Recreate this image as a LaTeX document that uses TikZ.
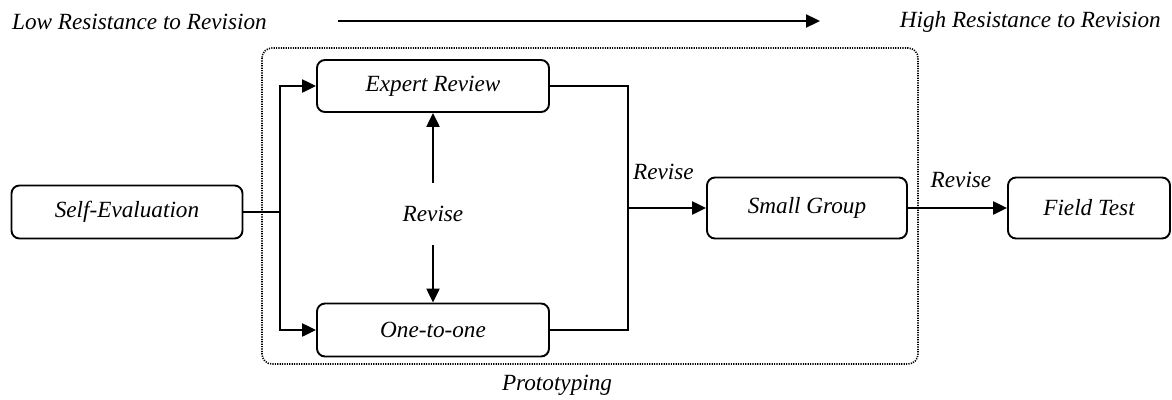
\documentclass[tikz,border=0pt]{standalone}
\usepackage{fontspec}
\setmainfont{Liberation Serif}
\usetikzlibrary{arrows.meta}
\begin{document}
\begin{tikzpicture}[x=1pt,y=-1pt,
  font=\fontsize{23.2}{27}\selectfont\itshape,
  stagebox/.style={draw, line width=1.9pt, rounded corners=8pt, inner sep=0pt, align=center},
  conn/.style={line width=2.3pt},
  arr/.style={conn, -{Triangle[length=14pt,width=13pt]}},
  lbl/.style={inner sep=0pt}
]
\useasboundingbox (0,0) rectangle (1172,399);
% top axis
\node[lbl, anchor=west] (low) at (12,22) {Low Resistance to Revision};
\node[lbl, anchor=east] (high) at (1161,22) {High Resistance to Revision};
\coordinate (axs) at (338,21);
\coordinate (axe) at (820,21);
\draw[arr] (axs) -- (axe);
% prototyping frame
\draw[line width=1.6pt, dash pattern=on 1.2pt off 1.2pt, rounded corners=10pt] (262,48) rectangle (918,364);
\node[lbl] (proto) at (557,385) {Prototyping};
% stages
\node[stagebox, minimum width=232pt, minimum height=52pt] (expert) at (433,86) {Expert Review};
\node[stagebox, minimum width=232pt, minimum height=53pt] (one) at (433,330) {One-to-one};
\node[stagebox, minimum width=231pt, minimum height=53pt] (self) at (127,212) {Self-Evaluation};
\node[stagebox, minimum width=200pt, minimum height=61pt] (small) at (807,208) {Small Group};
\node[stagebox, minimum width=162pt, minimum height=61pt] (field) at (1089,208) {Field Test};
% revise in the middle
\node[lbl, minimum height=62pt] (rev) at (433,214) {Revise};
\draw[arr] (rev.north) -- (expert.south);
\draw[arr] (rev.south) -- (one.north);
% branch from self-evaluation
\coordinate (split) at (280,212);
\draw[conn] (self.east) -- (split);
\draw[arr] (split) |- (expert.west);
\draw[arr] (split) |- (one.west);
% merge to small group
\coordinate (merge) at (628,208);
\draw[conn] (expert.east) -| (merge) |- (one.east);
\draw[arr] (merge) -- (small.west);
\node[lbl, anchor=west] (rev2) at (633,172) {Revise};
% small group to field test
\draw[arr] (small.east) -- (field.west);
\node[lbl] (rev3) at (961,180) {Revise};
\end{tikzpicture}
\end{document}
